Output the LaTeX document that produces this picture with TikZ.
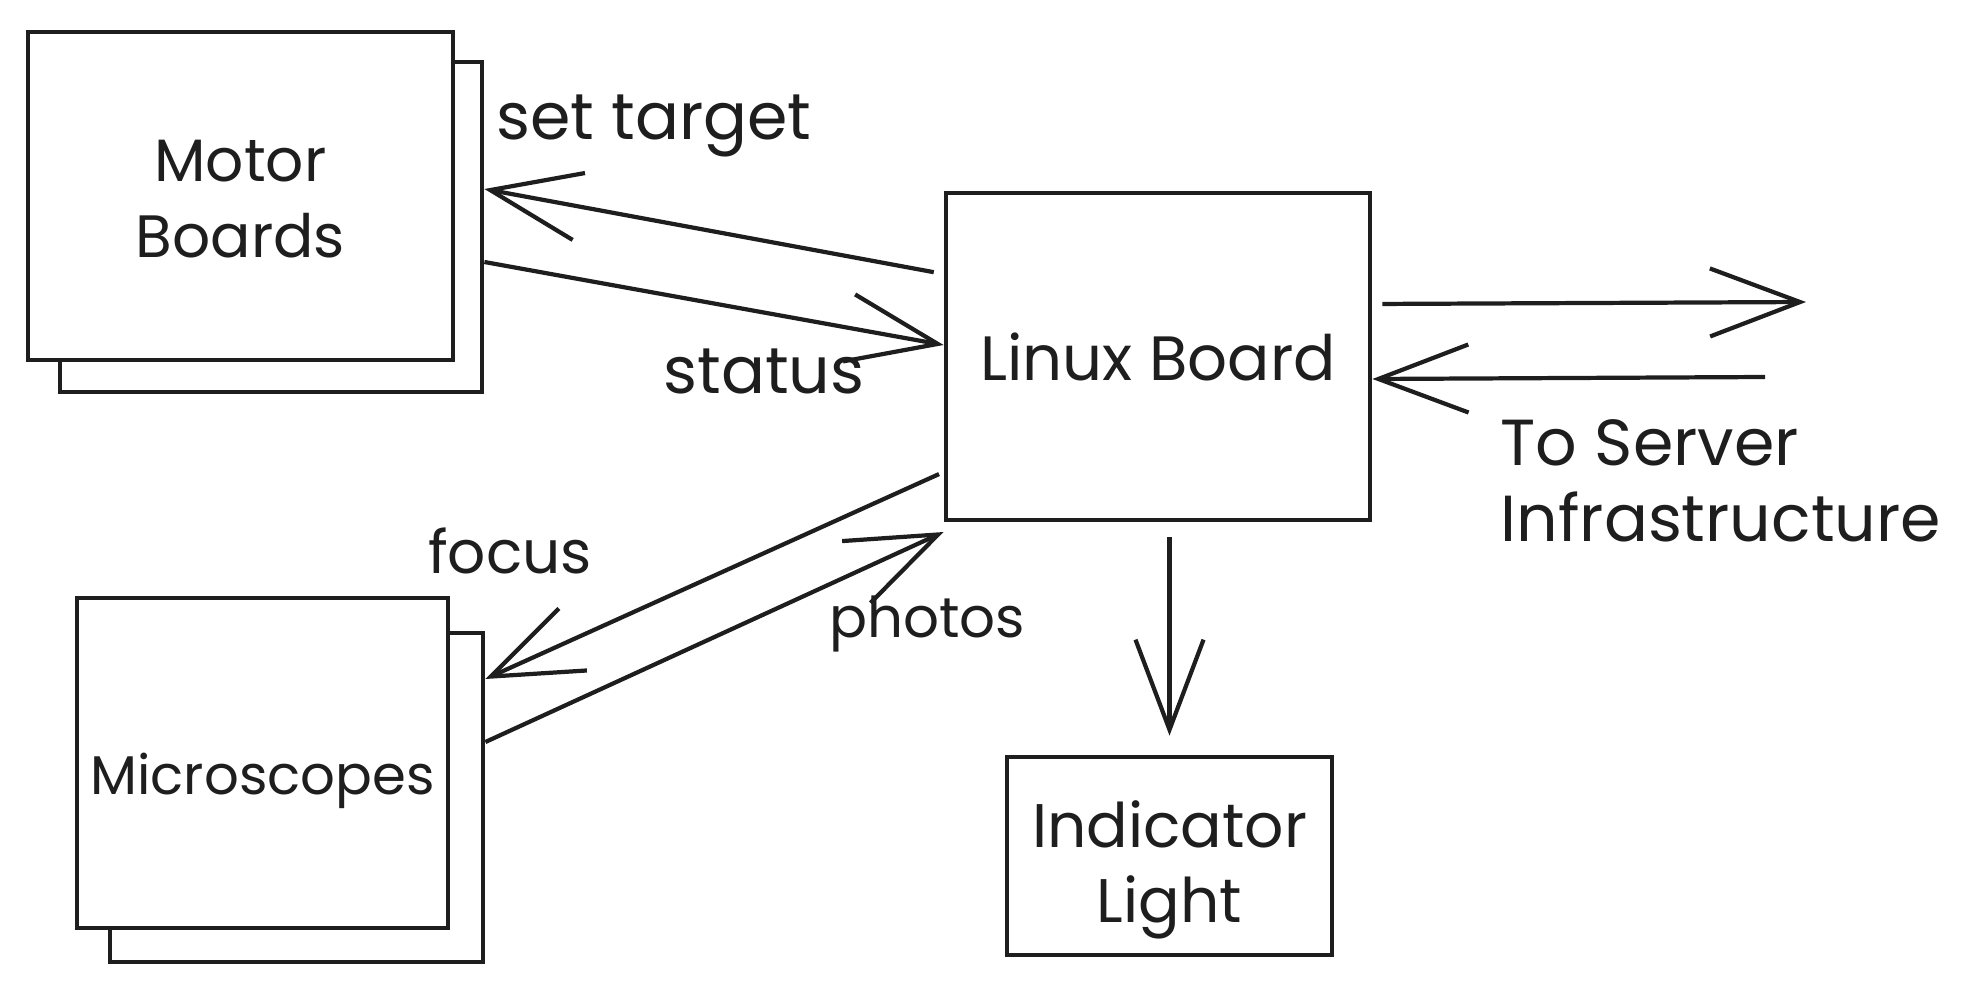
\documentclass[tikz,border=0pt]{standalone}
\usepackage{fontspec}
\setmainfont{Poppins}
\usetikzlibrary{arrows.meta,calc}
\definecolor{ink}{HTML}{1E1E1E}

\begin{document}
\begin{tikzpicture}[x=0.01cm, y=-0.01cm,
    box/.style={draw=ink, line width=1.3pt, fill=white, inner sep=0pt,
      align=center, font=\fontsize{17}{21.5}\selectfont},
    flow/.style={draw=ink, line width=1.2pt,
      -{Straight Barb[length=0.9cm, width=0.68cm]}},
    tag/.style={ink, inner sep=0pt, align=center, font=\fontsize{#1}{21.5}\selectfont},
    tag/.default=17]
  \useasboundingbox (0,0) rectangle (1973,991);
  % stacked boards
  \node[box, minimum width=4.22cm, minimum height=3.30cm] (motorback) at (271,227) {};
  \node[box, minimum width=4.25cm, minimum height=3.28cm,
    label={[tag, yshift=-0.03cm]center:Motor\\Boards}] (motor) at (240.5,196) {};
  \node[box, minimum width=3.73cm, minimum height=3.29cm] (microback) at (296.5,797.5) {};
  \node[box, minimum width=3.71cm, minimum height=3.30cm,
    label={[tag=15.5, yshift=-0.18cm]center:Microscopes}] (micro) at (262.5,763) {};
  % main board and light
  \node[box, minimum width=4.24cm, minimum height=3.27cm,
    label={[tag=17.8]center:Linux Board}] (linux) at (1158,356.5) {};
  \node[box, minimum width=3.25cm, minimum height=1.98cm,
    label={[tag=17.5, yshift=-0.14cm]center:Indicator\\Light}] (light) at (1169.5,856) {};
  % server ends
  \coordinate (srvout) at (1806,302);
  \coordinate (srvin) at (1765,377);
  % links to motor boards
  \draw[flow, shorten <=0.1cm] (linux.west |- 0,274) -- (motorback.east |- 0,189);
  \draw[flow] (motorback.east |- 0,262) -- (linux.west |- 0,345);
  % links to microscopes
  \draw[flow, shorten <=0.05cm] (linux.west |- 0,472) -- (microback.east |- 0,679);
  \draw[flow] (microback.east |- 0,742) -- (linux.west |- 0,532);
  % server and light
  \draw[flow, shorten <=0.1cm] (linux.east |- 0,304) -- (srvout);
  \draw[flow] (srvin) -- (linux.east |- 0,379);
  \draw[flow, shorten <=0.15cm, shorten >=0.19cm] (light.north |- linux.south) -- (light.north);
  % labels
  \node[tag=18.5] (settarget) at (654,126) {set target};
  \node[tag=18.5] (status) at (764,371) {status};
  \node[tag=17] (focus) at (510,551) {focus};
  \node[tag=16] (photos) at (927,624) {photos};
  \node[tag=18.5, anchor=west, align=left] (server) at (1500,481) {To Server\\Infrastructure};
\end{tikzpicture}
\end{document}
